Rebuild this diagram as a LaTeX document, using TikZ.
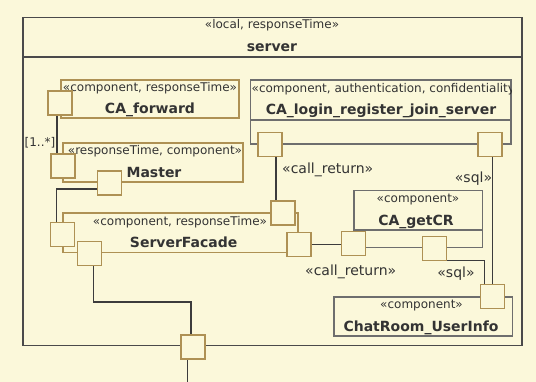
\documentclass[tikz,border=0pt]{standalone}
\usepackage{fontspec}
\setmainfont{DejaVu Sans}
\definecolor{paper}{HTML}{FBF8DA}
\definecolor{gold}{HTML}{AE9154}
\definecolor{frame}{HTML}{6E6E6E}
\definecolor{outerline}{HTML}{4A4A4A}
\definecolor{wirecol}{HTML}{3C3C3C}
\definecolor{ink}{HTML}{333333}
\pgfdeclarelayer{paperlayer}
\pgfdeclarelayer{wirelayer}
\pgfsetlayers{paperlayer,wirelayer,main}
\tikzset{
  boxbase/.style={rectangle, inner sep=0pt, outer sep=0pt, anchor=north west, line width=1.4pt},
  outerbox/.style={boxbase, draw=outerline, line width=1.6pt},
  goldbox/.style={boxbase, draw=gold},
  graybox/.style={boxbase, draw=frame},
  port/.style={rectangle, draw=gold, fill=paper, line width=1.4pt, minimum size=24pt, inner sep=0pt, outer sep=0pt},
  wire/.style={draw=wirecol, line width=1.3pt},
  stereo/.style={inner sep=0pt, text=ink, font=\fontsize{12}{14}\selectfont, anchor=base},
  cname/.style={inner sep=0pt, text=ink, font=\fontsize{14}{16}\selectfont\bfseries, anchor=base},
  lbl/.style={inner sep=0pt, text=ink, font=\fontsize{14}{16}\selectfont, anchor=base},
}
\begin{document}
\begin{tikzpicture}[x=1pt,y=-1pt]
\begin{pgfonlayer}{paperlayer}
  \fill[paper] (0,0) rectangle (536,382);
\end{pgfonlayer}
\useasboundingbox (0,0) rectangle (536,382);

% enclosing server component
\node[outerbox, minimum width=499pt, minimum height=328.2pt] (srv) at (23,17.5) {};
\draw[draw=outerline, line width=1.6pt] ([yshift=-39.5pt]srv.north west) -- ([yshift=-39.5pt]srv.north east);
\node[stereo] (srvSt) at (272,29) {«local, responseTime»};
\node[cname] (srvNm) at (272,52) {server};

% inner parts
\node[goldbox, minimum width=178pt, minimum height=38pt] (fwd) at (61,80) {};
\node[stereo] (fwdSt) at (150,91.7) {«component, responseTime»};
\node[cname] (fwdNm) at (150,114) {CA\_forward};

\node[goldbox, minimum width=180pt, minimum height=39pt] (mas) at (63,143) {};
\node[stereo] (masSt) at (155,155) {«responseTime, component»};
\node[cname] (masNm) at (154,177.5) {Master};

\node[goldbox, minimum width=235pt, minimum height=39.7pt] (sf) at (63,213) {};
\node[stereo] (sfSt) at (180,225.5) {«component, responseTime»};
\node[cname] (sfNm) at (183.7,248) {ServerFacade};

\node[graybox, minimum width=260.5pt, minimum height=64pt] (login) at (250.5,80) {};
\draw[draw=frame, line width=1.4pt] ([yshift=-40pt]login.north west) -- ([yshift=-40pt]login.north east);
\begin{scope}
  \clip (login.north west) rectangle ([yshift=-40pt]login.north east);
  \node[stereo, anchor=base west] (loginSt) at (251.5,93) {«component, authentication, confidentiality»};
\end{scope}
\node[cname] (loginNm) at (381,114.5) {CA\_login\_register\_join\_server};

\node[graybox, minimum width=128.7pt, minimum height=56.6pt] (cr) at (354,190.7) {};
\draw[draw=frame, line width=1.4pt] ([yshift=-39.3pt]cr.north west) -- ([yshift=-39.3pt]cr.north east);
\node[stereo] (crSt) at (418,202.5) {«component»};
\node[cname] (crNm) at (416,226) {CA\_getCR};

\node[graybox, minimum width=178.3pt, minimum height=39pt] (chat) at (334,297) {};
\node[stereo] (chatSt) at (421.5,309) {«component»};
\node[cname] (chatNm) at (421,331.5) {ChatRoom\_UserInfo};

% ports
\node[port] (fwdP) at (60,103) {};
\node[port] (masP1) at (63,166) {};
\node[port] (masP2) at (109.5,183) {};
\node[port] (sfP1) at (62.7,234.7) {};
\node[port] (sfP2) at (89.3,253.7) {};
\node[port] (sfP3) at (283,213) {};
\node[port] (sfP4) at (299,244.7) {};
\node[port] (loginP1) at (270,144.5) {};
\node[port] (loginP2) at (490,144.5) {};
\node[port] (crP1) at (353.5,243.7) {};
\node[port] (crP2) at (434.4,248.4) {};
\node[port] (chatP) at (492.5,296.7) {};
\node[port] (outP) at (193,347) {};
\coordinate (outEnd) at (187.3,382);
\coordinate (sfBend) at (93.3,302);

% connectors, kept beneath the ports
\begin{pgfonlayer}{wirelayer}
\draw[wire] ([xshift=-3pt]fwdP.south) -- ([xshift=-3pt]fwdP.south |- masP1.north);
\draw[wire] ([yshift=-6pt]masP2.west) -| ([xshift=-6pt]sfP1.north);
\draw[wire] ([xshift=4pt]sfP2.south) -- (sfBend) -| ([xshift=-2pt]outP.north);
\draw[wire] ([xshift=-5.7pt]outP.south) -- (outEnd);
\draw[wire] ([xshift=6pt]loginP1.south) -- ([xshift=6pt]loginP1.south |- sfP3.north);
\draw[wire] (chatP.north |- loginP2.south) -- (chatP.north);
\draw[wire] (sfP4.east) -- (sfP4.east -| crP1.west);
\draw[wire] ([xshift=6pt]crP2.south) -| ([xshift=-8pt]chatP.north);
\end{pgfonlayer}

% connector labels
\node[stereo] (mult) at (40,146.5) {[1..*]};
\node[lbl, anchor=base west] (callA) at (282,173.3) {«call\_return»};
\node[lbl] (sqlA) at (473.5,183) {«sql»};
\node[lbl, anchor=base west] (callB) at (305,276) {«call\_return»};
\node[lbl] (sqlB) at (456,278) {«sql»};
\end{tikzpicture}
\end{document}
